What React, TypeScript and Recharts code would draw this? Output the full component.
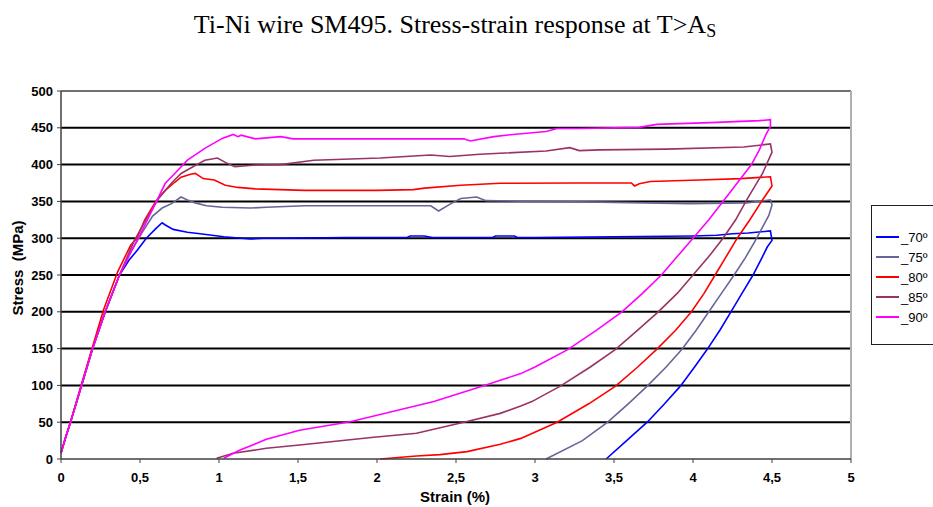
import React from 'react';
import { LineChart, Line, XAxis, YAxis, ReferenceLine, Label } from 'recharts';

const xTicks = [0, 0.5, 1, 1.5, 2, 2.5, 3, 3.5, 4, 4.5, 5];
const yTicks = [0, 50, 100, 150, 200, 250, 300, 350, 400, 450, 500];
const gridValues = [50, 100, 150, 200, 250, 300, 350, 400, 450];

const seriesNames = ['_70º', '_75º', '_80º', '_85º', '_90º'];
const seriesColors = ['#0000FF', '#666699', '#FF0000', '#993366', '#FF00FF'];

const s70: number[][] = [
  [0, 8], [0.03, 30], [0.06, 50], [0.13, 100], [0.2, 150], [0.28, 200], [0.37, 250], [0.43, 270],
  [0.48, 283], [0.54, 300], [0.6, 313], [0.64, 321], [0.66, 318], [0.71, 312], [0.8, 308], [0.88, 306],
  [1.03, 302], [1.2, 299], [1.28, 300], [1.4, 300], [1.8, 301], [2.0, 301], [2.19, 301], [2.21, 303],
  [2.3, 303], [2.35, 301], [2.6, 301], [2.73, 301], [2.75, 303], [2.87, 303], [2.89, 301], [3.0, 301],
  [3.5, 302], [4.0, 303], [4.15, 304], [4.25, 306], [4.35, 307], [4.49, 310], [4.5, 297], [4.47, 288],
  [4.44, 275], [4.38, 250], [4.31, 225], [4.24, 200], [4.17, 175], [4.09, 149], [4.01, 125], [3.92, 99],
  [3.82, 75], [3.71, 50], [3.58, 25], [3.45, 0],
];

const s75: number[][] = [
  [0, 8], [0.03, 30], [0.06, 50], [0.13, 100], [0.2, 150], [0.28, 200], [0.37, 250], [0.45, 285],
  [0.52, 310], [0.58, 330], [0.64, 341], [0.7, 347], [0.76, 356], [0.8, 352], [0.85, 348], [0.92, 344],
  [1.02, 342], [1.2, 341], [1.3, 342], [1.54, 344], [1.8, 344], [2.02, 344], [2.34, 344], [2.39, 337],
  [2.46, 346], [2.53, 354], [2.63, 356], [2.69, 351], [3.0, 350], [3.41, 349], [3.98, 347], [4.34, 348],
  [4.49, 352], [4.5, 345], [4.48, 331], [4.44, 315], [4.39, 295], [4.33, 273], [4.26, 250], [4.18, 225],
  [4.1, 200], [4.02, 175], [3.93, 149], [3.83, 125], [3.71, 99], [3.59, 75], [3.46, 50], [3.3, 25],
  [3.07, 0],
];

const s80: number[][] = [
  [0, 8], [0.03, 30], [0.06, 50], [0.13, 102], [0.2, 153], [0.27, 203], [0.36, 255], [0.44, 290],
  [0.48, 300], [0.53, 325], [0.6, 350], [0.66, 365], [0.72, 376], [0.76, 383], [0.82, 387], [0.85, 388],
  [0.9, 381], [0.97, 379], [1.04, 372], [1.12, 369], [1.23, 367], [1.54, 365], [2.0, 365], [2.23, 366],
  [2.3, 368], [2.53, 372], [2.78, 374.6], [3.28, 375], [3.61, 375], [3.63, 371], [3.66, 374], [3.73, 377],
  [4.04, 379], [4.3, 381], [4.49, 383.5], [4.5, 371], [4.44, 352], [4.36, 325], [4.28, 300], [4.21, 275],
  [4.14, 250], [4.07, 225], [3.99, 200], [3.89, 175], [3.77, 149], [3.65, 125], [3.51, 99], [3.34, 75],
  [3.14, 50], [2.91, 28], [2.78, 20], [2.57, 10], [2.4, 6], [2.25, 4], [2.02, 0],
];

const s85: number[][] = [
  [0, 8], [0.03, 30], [0.06, 50], [0.13, 100], [0.2, 150], [0.28, 200], [0.37, 250], [0.46, 295],
  [0.55, 330], [0.62, 355], [0.7, 375], [0.76, 388], [0.81, 394], [0.86, 400], [0.91, 406], [0.99, 409],
  [1.04, 403], [1.1, 397], [1.23, 399.5], [1.39, 400], [1.6, 406], [2.02, 409], [2.34, 413], [2.46, 411],
  [2.65, 414], [3.07, 418.5], [3.22, 423], [3.28, 419], [3.41, 420], [3.83, 421], [4.32, 424], [4.49, 428],
  [4.5, 417], [4.44, 388], [4.39, 370], [4.34, 352], [4.27, 325], [4.19, 300], [4.1, 275], [4.0, 250],
  [3.9, 225], [3.78, 200], [3.65, 175], [3.51, 149], [3.35, 125], [3.16, 99], [2.98, 78],
  [2.91, 72], [2.78, 62], [2.57, 51], [2.25, 35], [1.98, 29.5], [1.51, 19], [1.3, 14.5], [1.09, 7.7],
  [0.985, 1],
];

const s90: number[][] = [
  [0, 8], [0.03, 30], [0.06, 50], [0.13, 100], [0.2, 150], [0.28, 200], [0.37, 250], [0.44, 280],
  [0.49, 300], [0.57, 335], [0.66, 374.6], [0.72, 388], [0.8, 406], [0.91, 422], [1.02, 435.6],
  [1.09, 441], [1.12, 438], [1.14, 440], [1.23, 435], [1.39, 438], [1.47, 435], [2.02, 435], [2.55, 435],
  [2.59, 432], [2.74, 438], [2.86, 441], [3.07, 445], [3.14, 449], [3.28, 449], [3.66, 450.6],
  [3.77, 454.7], [4.11, 457], [4.42, 459.7], [4.49, 461], [4.49, 452], [4.46, 440], [4.42, 420],
  [4.37, 400], [4.28, 375], [4.19, 350], [4.1, 325], [4.0, 300], [3.9, 275], [3.8, 250], [3.68, 225],
  [3.55, 200], [3.39, 175], [3.21, 149], [3.0, 125], [2.91, 116], [2.78, 107], [2.69, 100.5],
  [2.36, 78], [1.83, 50.7], [1.51, 39], [1.3, 26.7], [1.13, 12], [1.03, 1],
];

const seriesData = [s70, s75, s80, s85, s90].map((arr) => arr.map(([x, y]) => ({ x, y })));

const fmtX = (v: number) => String(v).replace('.', ',');

const sans = 'Liberation Sans, Arial, sans-serif';
const tickStyle = { fontFamily: sans, fontSize: 13, fontWeight: 700, fill: '#000' };

export default function App() {
  return (
    <div style={{ position: 'absolute', left: 0, top: 0, width: 933, height: 507, overflow: 'hidden', background: '#fff' }}>
      <div
        style={{
          position: 'absolute', left: 0, top: 10, width: 910, textAlign: 'center',
          fontFamily: 'Liberation Serif, Times New Roman, serif', fontSize: 26, lineHeight: '30px', color: '#000',
        }}
      >
        Ti-Ni wire SM495. Stress-strain response at T&gt;A<sub style={{ fontSize: 18, verticalAlign: '-4px', lineHeight: 0 }}>S</sub>
      </div>
      <LineChart width={933} height={507} margin={{ top: 91, right: 82, bottom: 0, left: 0 }}>
        <XAxis
          dataKey="x" type="number" domain={[0, 5]} ticks={xTicks} tickFormatter={fmtX}
          height={48} tick={tickStyle} tickSize={4} tickMargin={10}
          axisLine={{ stroke: '#404040', strokeWidth: 1.5 }} tickLine={{ stroke: '#404040' }}
          interval={0}
        >
          <Label
            content={() => (
              <text x={455} y={502} textAnchor="middle" style={{ fontFamily: sans, fontSize: 15, fontWeight: 700 }}>
                Strain (%)
              </text>
            )}
          />
        </XAxis>
        <YAxis
          type="number" domain={[0, 500]} ticks={yTicks} width={61} tick={tickStyle}
          tickSize={4} tickMargin={4} axisLine={{ stroke: '#404040', strokeWidth: 1.5 }} tickLine={{ stroke: '#404040' }}
          interval={0}
        >
          <Label
            content={() => (
              <text x={23} y={268} textAnchor="middle" transform="rotate(-90 23 268)" style={{ fontFamily: sans, fontSize: 15, fontWeight: 700, whiteSpace: 'pre' }}>
                Stress  (MPa)
              </text>
            )}
          />
        </YAxis>
        {gridValues.map((v) => (
          <ReferenceLine key={v} y={v} stroke="#000" strokeWidth={2} />
        ))}
        <ReferenceLine y={500} stroke="#707070" strokeWidth={2} />
        <ReferenceLine x={5} stroke="#b0b0b0" strokeWidth={2} />
        {seriesData.map((d, i) => (
          <Line
            key={seriesNames[i]} data={d} dataKey="y" name={seriesNames[i]} type="linear"
            stroke={seriesColors[i]} strokeWidth={1.6} dot={false} isAnimationActive={false}
          />
        ))}
      </LineChart>
      <div
        style={{
          position: 'absolute', left: 871, top: 205, width: 80, height: 140, boxSizing: 'border-box',
          border: '1px solid #202020', background: '#fff',
        }}
      >
        {seriesNames.map((n, i) => (
          <div key={n} style={{ position: 'absolute', left: 4, top: 23 + i * 20, height: 16, display: 'flex', alignItems: 'center' }}>
            <div style={{ width: 23, height: 2, background: seriesColors[i] }} />
            <span style={{ marginLeft: 2, fontFamily: sans, fontSize: 13, color: '#000' }}>{n}</span>
          </div>
        ))}
      </div>
    </div>
  );
}
